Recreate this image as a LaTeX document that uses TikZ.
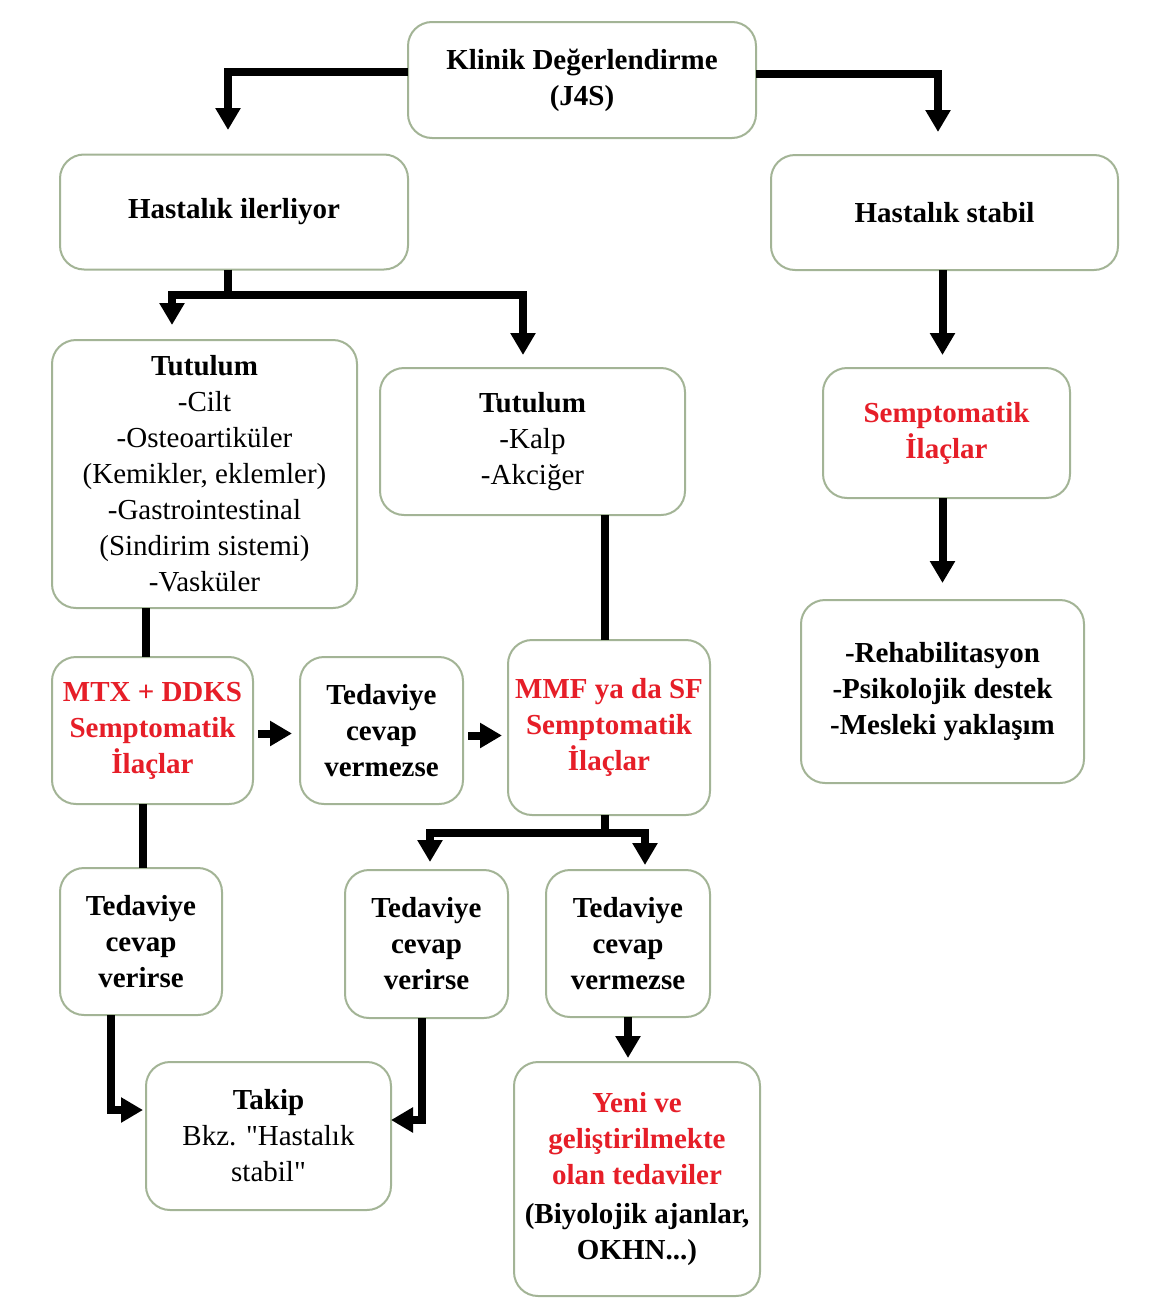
\documentclass[tikz,border=0pt]{standalone}
\usepackage{fontspec}
\setmainfont{Liberation Serif}
\newfontfamily\quotefont{Liberation Serif}
\usepackage{tikz}
\usetikzlibrary{arrows.meta, positioning}
\usepackage{xcolor}
\definecolor{boxEdge}{RGB}{163, 180, 150}
\definecolor{textRed}{RGB}{230, 30, 40}
\newcommand{\sq}{{\quotefont"}}
\tikzset{
    box/.style={draw=boxEdge, line width=1pt, fill=white, rounded corners=12pt,
                align=center, inner sep=2pt, outer sep=0pt,
                font=\fontsize{14.5}{18}\selectfont},
    redbox/.style={box, text=textRed, font=\fontsize{14.5}{18}\selectfont\bfseries},
    conn/.style={line width=4pt, line join=miter, -{Triangle[width=12pt, length=11pt]}},
    link/.style={line width=4pt, line join=miter}
}

\begin{document}
\begin{tikzpicture}[x=0.5pt, y=-0.5pt]
    \useasboundingbox (0,0) rectangle (1158,1306);

    % Top row
    \node[box, minimum width=174pt, minimum height=58pt] (klinik) at (582,80)
        {\textbf{Klinik Değerlendirme}\\\textbf{(J4S)}};
    \node[box, minimum width=174pt, minimum height=57.5pt] (ilerliyor) at (234,212)
        {\textbf{Hastalık ilerliyor}};
    \node[box, minimum width=173.5pt, minimum height=57.5pt] (stabil) at (944.5,212.5)
        {\textbf{Hastalık stabil}};

    % Organ involvement
    \node[box, minimum width=152.5pt, minimum height=134pt] (tutA) at (204.5,474)
        {\textbf{Tutulum}\\-Cilt\\-Osteoartiküler\\(Kemikler, eklemler)\\-Gastrointestinal\\(Sindirim sistemi)\\-Vasküler};
    \node[box, minimum width=152.5pt, minimum height=73.5pt] (tutB) at (532.5,441.5)
        {\textbf{Tutulum}\\-Kalp\\-Akciğer};
    \node[redbox, minimum width=123.5pt, minimum height=65pt] (sempt) at (946.5,433)
        {Semptomatik\\İlaçlar};
    \node[box, minimum width=141.5pt, minimum height=91.5pt] (rehab) at (942.5,691.5)
        {\textbf{-Rehabilitasyon}\\\textbf{-Psikolojik destek}\\\textbf{-Mesleki yaklaşım}};

    % Treatment row
    \node[redbox, minimum width=100.5pt, minimum height=73.5pt] (mtx) at (152.5,730.5)
        {MTX + DDKS\\Semptomatik\\İlaçlar};
    \node[box, minimum width=81.5pt, minimum height=73.5pt] (verm1) at (381.5,730.5)
        {\textbf{Tedaviye}\\\textbf{cevap}\\\textbf{vermezse}};
    \node[redbox, minimum width=101pt, minimum height=87.5pt] (mmf) at (609,727.5)
        {MMF ya da SF\\Semptomatik\\İlaçlar};

    % Response row
    \node[box, minimum width=81pt, minimum height=73.5pt] (veri1) at (141,941.5)
        {\textbf{Tedaviye}\\\textbf{cevap}\\\textbf{verirse}};
    \node[box, minimum width=81.5pt, minimum height=74pt] (veri2) at (426.5,944)
        {\textbf{Tedaviye}\\\textbf{cevap}\\\textbf{verirse}};
    \node[box, minimum width=82pt, minimum height=73.5pt] (verm2) at (628,943.5)
        {\textbf{Tedaviye}\\\textbf{cevap}\\\textbf{vermezse}};

    % Bottom row
    \node[box, minimum width=122.5pt, minimum height=74pt] (takip) at (268.5,1136)
        {\textbf{Takip}\\Bkz. \sq Hastalık\\stabil\sq};
    \node[box, minimum width=123pt, minimum height=117pt] (yeni) at (637,1179)
        {\textcolor{textRed}{\textbf{Yeni ve}}\\\textcolor{textRed}{\textbf{geliştirilmekte}}\\\textcolor{textRed}{\textbf{olan tedaviler}}\\[1.5pt]\textbf{(Biyolojik ajanlar,}\\\textbf{OKHN...)}};

    % Arrow landing points
    \coordinate (tipIler) at (228,130);
    \coordinate (tipStab) at (938,132);
    \coordinate (tipTutA) at (172,325);
    \coordinate (tipTutB) at (523,355);
    \coordinate (tipVeri2) at (430,862);
    \coordinate (tipVerm2) at (645,865);

    % Connectors
    \draw[conn] ([yshift=4pt]klinik.west) -| (tipIler);
    \draw[conn] ([yshift=3pt]klinik.east) -| (tipStab);
    \draw[conn] ([xshift=-3pt]ilerliyor.south) -- ++(0,25) coordinate (splitA) -| (tipTutA);
    \draw[conn] (splitA) -| (tipTutB);
    \draw[conn, shorten >=6.5pt] ([xshift=-1pt]stabil.south) -- ([xshift=-1pt]stabil.south |- sempt.north);
    \draw[conn, shorten >=8.5pt] ([xshift=-2pt]sempt.south) -- ([xshift=-2pt]sempt.south |- rehab.north);
    \draw[link] ([xshift=-3.5pt]mtx.north) -- ([xshift=-3.5pt]mtx.north |- tutA.south);
    \draw[link] ([xshift=-2pt]mmf.north) -- ([xshift=-2pt]mmf.north |- tutB.south);
    \draw[conn, shorten <=2.5pt, shorten >=4pt] ([yshift=-1.5pt]mtx.east) -- ([yshift=-1.5pt]mtx.east -| verm1.west);
    \draw[conn, shorten <=2.5pt, shorten >=3pt] ([yshift=-2.5pt]verm1.east) -- ([yshift=-2.5pt]verm1.east -| mmf.west);
    \draw[conn] ([xshift=-2pt]mmf.south) -- ++(0,18) coordinate (splitB) -| (tipVeri2);
    \draw[conn] (splitB) -| (tipVerm2);
    \draw[link] ([xshift=1pt]veri1.north) -- ([xshift=1pt]veri1.north |- mtx.south);
    \draw[conn, shorten >=1.5pt] ([xshift=-15pt]veri1.south) |- ([yshift=13pt]takip.west);
    \draw[conn] ([xshift=-2.5pt]veri2.south) |- ([yshift=8pt]takip.east);
    \draw[conn, shorten >=2pt] (verm2.south) -- (verm2.south |- yeni.north);
\end{tikzpicture}
\end{document}
